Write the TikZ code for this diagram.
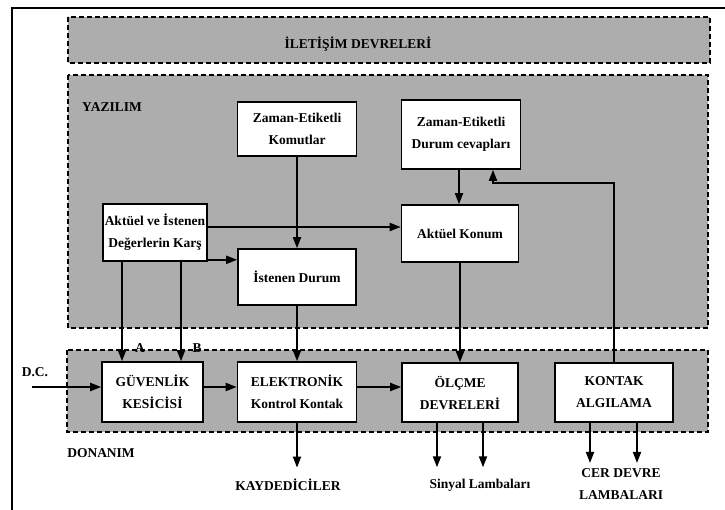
\documentclass[tikz,border=0pt]{standalone}
\usepackage{fontspec}
\setmainfont{Liberation Serif}
\usetikzlibrary{arrows.meta, positioning}
\tikzset{box/.style={rectangle,draw,fill=white,line width=1.6pt,align=center,inner sep=0pt},
  line/.style={line width=1.8pt,-{Triangle[length=11pt,width=8pt]}},
  band/.style={draw,fill=black!32,line width=1.2pt,dash pattern=on 5pt off 3pt}}

\begin{document}
\begin{tikzpicture}[x=1pt,y=-1pt,font=\fontsize{13.5}{22}\selectfont\bfseries]
\useasboundingbox (0,0) rectangle (725,510);
\draw[line width=1.6pt] (12,510) -- (12,8) -- (725,8);
% bolgeler
\draw[band] (68,17) rectangle (710,63);
\draw[band] (68,75) rectangle (708,328);
\draw[band] (67,350) rectangle (708,432);
\node (ilet) at (358,44) {İLETİŞİM DEVRELERİ};
\node (yaz) at (112,107) {YAZILIM};
\node (don) at (101,453) {DONANIM};
% yazilim kutulari
\node[box, minimum width=119pt, minimum height=54pt] (komut) at (297,129) {Zaman-Etiketli\\Komutlar};
\node[box, minimum width=119pt, minimum height=69pt] (durum) at (461,134.5) {Zaman-Etiketli\\Durum cevapları};
\node[box, minimum width=104pt, minimum height=57pt] (karsi) at (155,232.5) {Aktüel ve İstenen\\Değerlerin Karş};
\node[box, minimum width=117pt, minimum height=57pt] (konum) at (460,233.5) {Aktüel Konum};
\node[box, minimum width=118pt, minimum height=56pt] (isten) at (297,277) {İstenen Durum};
% donanim kutulari
\node[box, minimum width=101pt, minimum height=60pt] (guv) at (152.5,392) {GÜVENLİK\\KESİCİSİ};
\node[box, minimum width=119pt, minimum height=60pt] (elek) at (297,392) {ELEKTRONİK\\Kontrol Kontak};
\node[box, minimum width=116pt, minimum height=59pt] (olcme) at (460,392.5) {ÖLÇME\\DEVRELERİ};
\node[box, minimum width=118pt, minimum height=59pt] (kontak) at (614,392.5) {KONTAK\\ALGILAMA};
% cikislar
\coordinate (dc) at (32,387);
\node (dclbl) at (35,372) {D.C.};
\node (albl) at (140,348) {A};
\node (blbl) at (197,348) {B};
\node (kayd) at (288,485) {KAYDEDİCİLER};
\node (sinyal) at (480,485) {Sinyal Lambaları};
\node[align=center] (cer) at (621,484) {CER DEVRE\\LAMBALARI};
% baglantilar
\draw[line] (komut.south) -- (komut.south |- isten.north);
\draw[line] (isten.south) -- (isten.south |- elek.north);
\draw[line] ([xshift=-2pt]durum.south) -- ([xshift=-2pt]durum.south |- konum.north);
\draw[line] (konum.south) -- (konum.south |- olcme.north);
\draw[line] (kontak.north) |- ([xshift=32pt,yshift=-13pt]durum.south) -- ([xshift=32pt]durum.south);
\draw[line] ([yshift=5.5pt]karsi.east) -- ([yshift=5.5pt]karsi.east -| konum.west);
\draw[line] ([yshift=2pt]karsi.south east) -- ([yshift=2pt]karsi.south east -| isten.west);
\draw[line] ([xshift=-33pt]karsi.south) -- ([xshift=-33pt]karsi.south |- guv.north);
\draw[line] ([xshift=26pt]karsi.south) -- ([xshift=26pt]karsi.south |- guv.north);
\draw[line] (dc) -- (dc -| guv.west);
\draw[line] ([yshift=5pt]guv.east) -- ([yshift=5pt]guv.east -| elek.west);
\draw[line] ([yshift=5pt]elek.east) -- ([yshift=5pt]elek.east -| olcme.west);
\draw[line, shorten >=8pt] (elek.south) -- (elek.south |- kayd.north);
\draw[line, shorten >=8pt] ([xshift=-23pt]olcme.south) -- ([xshift=-23pt]olcme.south |- sinyal.north);
\draw[line, shorten >=8pt] ([xshift=23pt]olcme.south) -- ([xshift=23pt]olcme.south |- sinyal.north);
\draw[line, shorten >=2pt] ([xshift=-24pt]kontak.south) -- ([xshift=-24pt]kontak.south |- cer.north);
\draw[line, shorten >=2pt] ([xshift=23pt]kontak.south) -- ([xshift=23pt]kontak.south |- cer.north);
\end{tikzpicture}
\end{document}
